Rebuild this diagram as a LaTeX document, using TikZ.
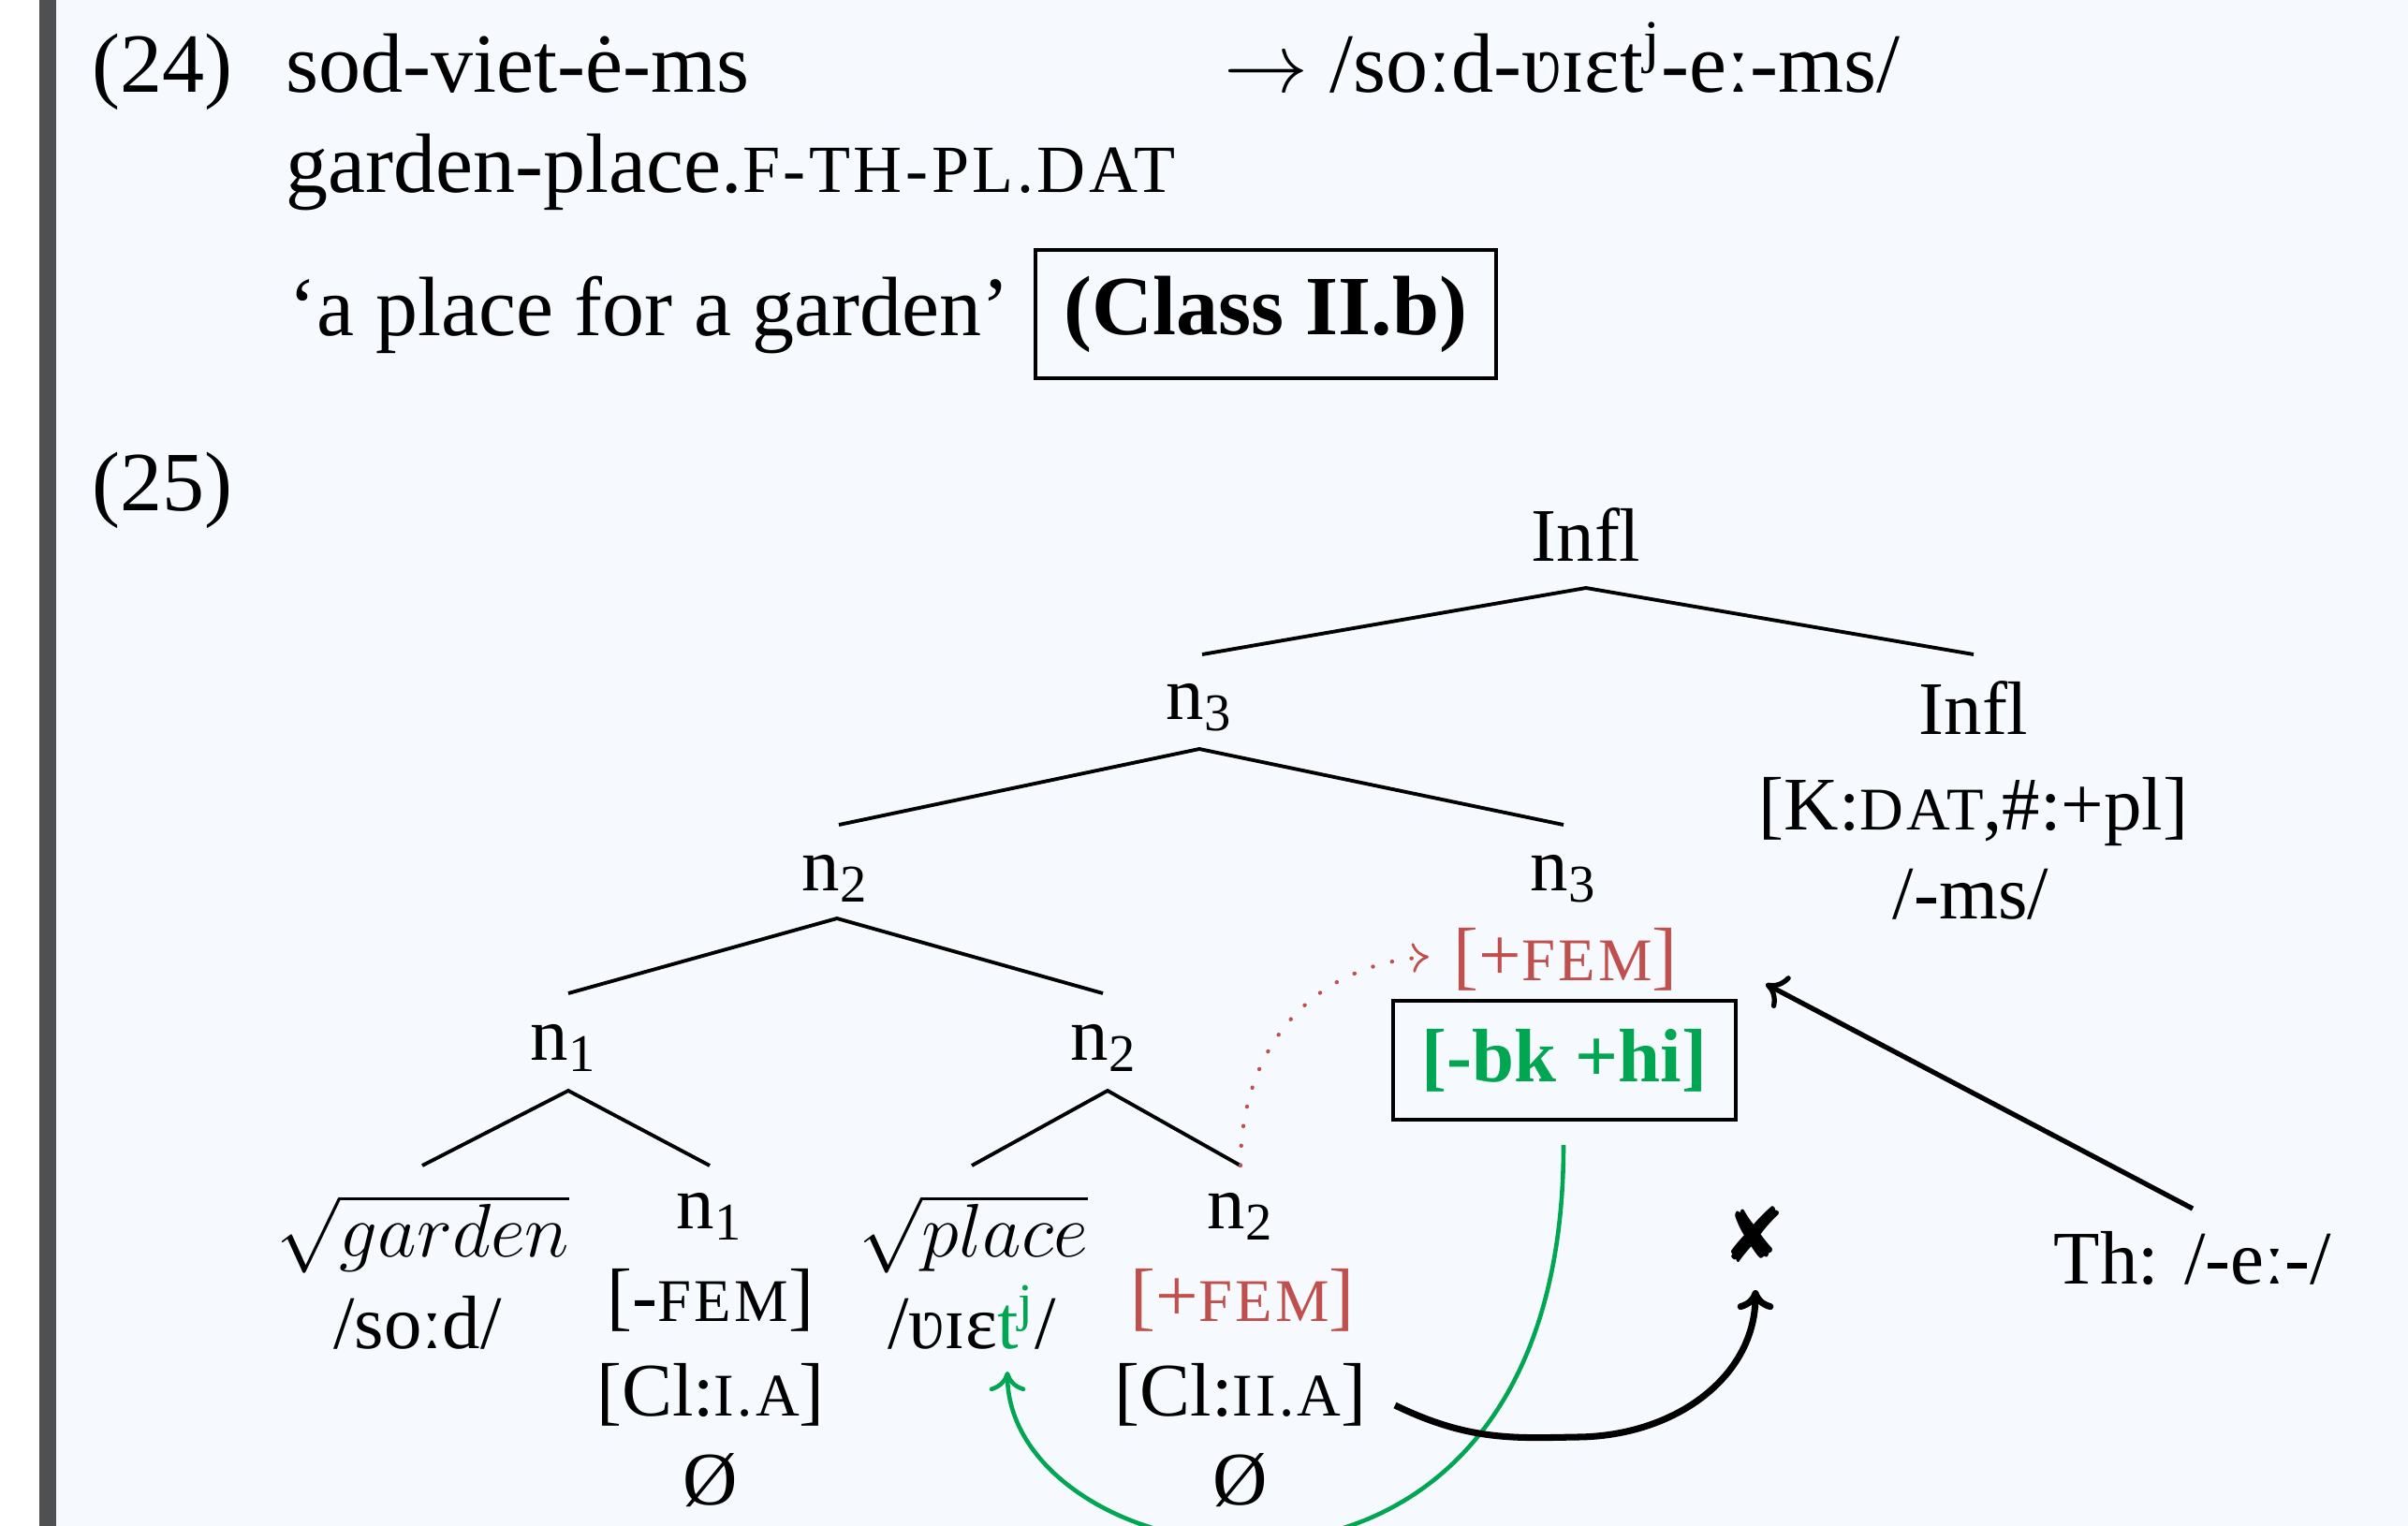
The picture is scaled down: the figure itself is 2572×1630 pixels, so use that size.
\RequirePackage{fix-cm}
\documentclass[tikz,border=0pt]{standalone}
\usepackage{fontspec}
\setmainfont{Liberation Serif}
\newfontfamily\dejavu{DejaVu Sans}
\usetikzlibrary{arrows.meta}
\definecolor{fem}{HTML}{C0504D}
\definecolor{grn}{HTML}{00A651}
\definecolor{bgc}{HTML}{F6F9FD}
\definecolor{barc}{HTML}{4F5052}
\makeatletter
\newcommand\smc[1]{{\fontsize{\fpeval{0.8*\f@size}}{0}\selectfont\addfontfeature{LetterSpace=5}#1}}
\makeatother
\begin{document}
\begin{tikzpicture}[x=0.01cm,y=-0.01cm,
  toptxt/.style={font=\fontsize{25.6}{30}\selectfont,inner sep=0pt,anchor=base west},
  treetxt/.style={font=\fontsize{23}{28}\selectfont,inner sep=0pt,anchor=base},
  edge/.style={line width=1.1pt},
  arr/.style={-{Computer Modern Rightarrow[length=6pt,width=11pt]}},
  ]
\useasboundingbox (0,0) rectangle (2572,1630);
\fill[white] (0,0) rectangle (2572,1630);
\fill[bgc] (60,0) rectangle (2572,1630);
\fill[barc] (42,0) rectangle (60,1630);

% example (24)
\node[toptxt] (ex24) at (98,98) {(24)};
\node[toptxt] (form) at (305,98) {sod-viet-ė-ms};
\node[toptxt] (ipa) at (1307,98) {$\rightarrow$ /soːd-ʋɪɛt\textsuperscript{j}-eː-ms/};
\node[toptxt] (gloss) at (305,205) {garden-place.\smc{F-TH-PL.DAT}};
\node[toptxt] (trans) at (308,358) {‘a place for a garden’};
\node[draw, line width=1pt, minimum width=4.92cm, minimum height=1.37cm, inner sep=0pt,
      font=\fontsize{25.6}{30}\selectfont\bfseries] (cls) at (1352,335.5) {(Class II.b)};

% example (25)
\node[toptxt] (ex25) at (98,545) {(25)};

\node[treetxt] (inflT) at (1694,599) {Infl};
\node[treetxt] (nthree) at (1281,768) {n\textsubscript{3}};
\node[treetxt] (inflR) at (2108,784) {Infl};
\node[treetxt] (kdat) at (2108,886) {[K:\smc{DAT},\#:+pl]};
\node[treetxt] (ms) at (2105,981) {/-ms/};
\node[treetxt] (ntwoA) at (892,951) {n\textsubscript{2}};
\node[treetxt] (nthreeB) at (1670,951) {n\textsubscript{3}};
\node[treetxt, text=fem] (femTop) at (1672,1047) {[+\smc{FEM}]};
\node[draw, line width=1.2pt, minimum width=3.66cm, minimum height=1.27cm, inner sep=0pt,
      text=grn, font=\fontsize{23}{28}\selectfont\bfseries] (bkhi) at (1671,1132.5) {[-bk +hi]};
\node[treetxt] (none) at (602,1132) {n\textsubscript{1}};
\node[treetxt] (ntwoB) at (1179,1132) {n\textsubscript{2}};
\node[treetxt] (garden) at (452,1342) {$\sqrt{garden}$};
\node[treetxt] (sod) at (446,1440) {/soːd/};
\node[treetxt] (noneC) at (758,1312) {n\textsubscript{1}};
\node[treetxt] (femA) at (759,1411) {[-\smc{FEM}]};
\node[treetxt] (clA) at (759,1512) {[Cl:\smc{I.A}]};
\node[treetxt] (nullA) at (759,1607) {Ø};
\node[treetxt] (place) at (1040,1342) {$\sqrt{place}$};
\node[treetxt] (viet) at (1038,1440) {/ʋɪɛ\textcolor{grn}{t\textsuperscript{j}}/};
\node[treetxt] (ntwoC) at (1325,1312) {n\textsubscript{2}};
\node[treetxt, text=fem] (femB) at (1327,1411) {[+\smc{FEM}]};
\node[treetxt] (clB) at (1325,1512) {[Cl:\smc{II.A}]};
\node[treetxt] (nullB) at (1325,1607) {Ø};
\node[font=\dejavu\fontsize{23}{26}\selectfont, inner sep=0pt] (cross) at (1873,1319) {✘};
\node[treetxt] (th) at (2342,1371) {Th: /-eː-/};

% tree edge points
\coordinate (aInfl) at (1694,628);
\coordinate (eN3) at (1284,699);
\coordinate (eInflR) at (2108,699);
\coordinate (aN3) at (1281,800);
\coordinate (eN2) at (896,881);
\coordinate (eN3B) at (1670,881);
\coordinate (aN2) at (894,981);
\coordinate (eN1) at (607,1061);
\coordinate (eN2B) at (1178,1061);
\coordinate (aN1) at (607,1165);
\coordinate (eGarden) at (451,1245);
\coordinate (eN1C) at (758,1245);
\coordinate (aN2B) at (1183,1165);
\coordinate (ePlace) at (1038,1245);
\coordinate (eN2C) at (1325,1245);

\draw[edge] (eN3) -- (aInfl) -- (eInflR);
\draw[edge] (eN2) -- (aN3) -- (eN3B);
\draw[edge] (eN1) -- (aN2) -- (eN2B);
\draw[edge] (eGarden) -- (aN1) -- (eN1C);
\draw[edge] (ePlace) -- (aN2B) -- (eN2C);

% arrows
\coordinate (thTop) at (2342,1291);
\coordinate (boxTip) at (1886,1051);
\draw[arr, line width=1.5pt] (thTop) -- (boxTip);

\coordinate (gStart) at (1670,1223);
\coordinate (tjTip) at (1076,1465);
\draw[arr, grn, line width=1.3pt] (gStart) .. controls (1670,1800) and (1076,1690) .. (tjTip);

\coordinate (bStart) at (1490,1501);
\coordinate (bLow) at (1685,1535);
\coordinate (crossTip) at (1875,1378);
\draw[arr, line width=2pt] (bStart) .. controls (1570,1540) and (1620,1536) .. (bLow)
   .. controls (1790,1534) and (1875,1470) .. (crossTip);

\coordinate (femTip) at (1526,1022);
\draw[fem, line width=1.2pt, dash pattern=on 0.1pt off 5.9pt, line cap=round,
      -{Computer Modern Rightarrow[length=5pt,width=9pt,line width=0.8pt]}]
   (eN2C) .. controls (1325,1120) and (1400,1030) .. (femTip);
\end{tikzpicture}
\end{document}
